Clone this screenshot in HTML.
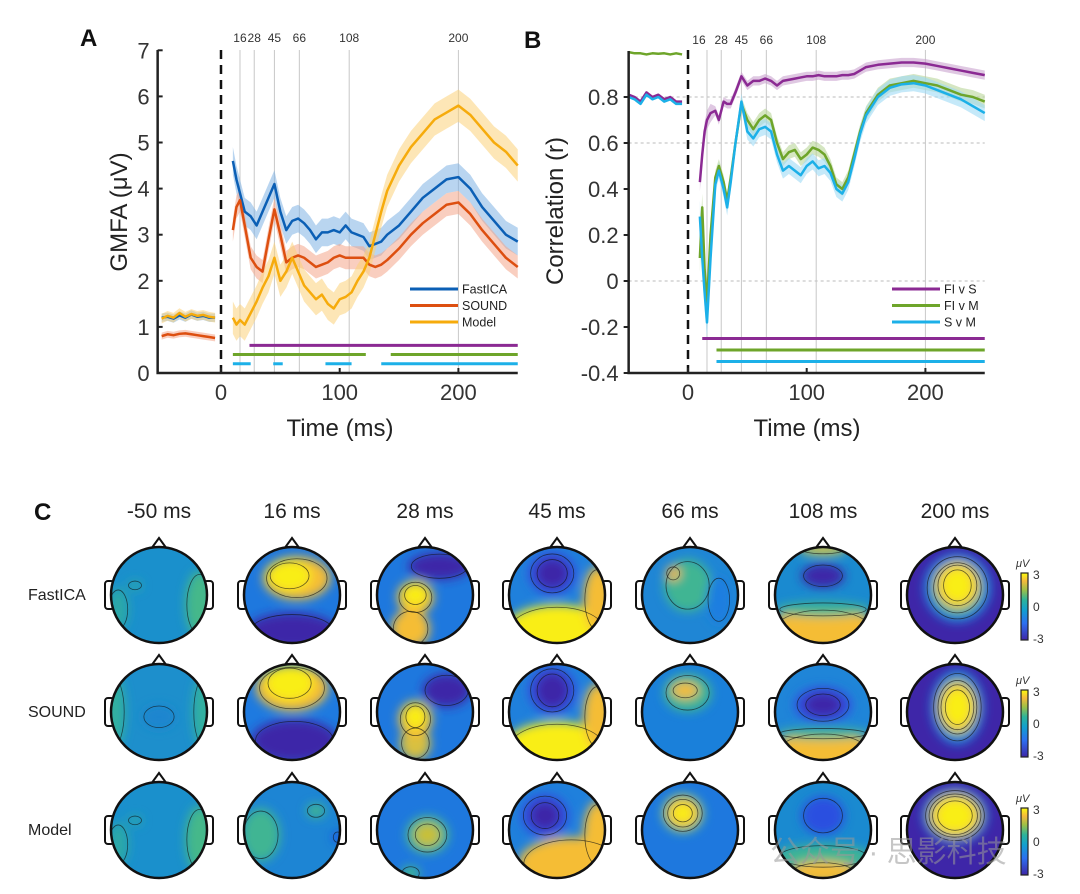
<!DOCTYPE html>
<html><head><meta charset="utf-8">
<style>
html,body{margin:0;padding:0;background:#fff;}
svg{display:block;font-family:"Liberation Sans","DejaVu Sans",sans-serif;}
</style></head>
<body>
<svg id="fig" width="1080" height="894" viewBox="0 0 1080 894" xmlns="http://www.w3.org/2000/svg">
<defs>
<filter id="blur" x="-50%" y="-50%" width="200%" height="200%"><feGaussianBlur stdDeviation="5"/></filter>
<linearGradient id="parula" x1="0" y1="1" x2="0" y2="0">
<stop offset="0" stop-color="#3e26a8"/><stop offset="0.25" stop-color="#2c6ff0"/><stop offset="0.45" stop-color="#12a0cf"/><stop offset="0.6" stop-color="#2db49a"/><stop offset="0.75" stop-color="#9fc047"/><stop offset="0.88" stop-color="#f5ba3c"/><stop offset="1" stop-color="#f9fb0e"/>
</linearGradient>
</defs>
<g id="panelA"></g>
<g id="panelB"></g>
<g id="panelC"></g>
<text x="770" y="862" font-size="30" fill="#999" opacity="0.55" font-family="'Liberation Sans','Noto Sans CJK SC',sans-serif">公众号 · 思影科技</text>
</svg>
<script>
// ---------- Panel A data ----------
const timesA = [10,13,16,20,25,30,35,40,45,50,55,60,65,70,75,80,85,90,95,100,105,110,115,120,125,130,135,140,150,160,170,180,190,200,210,220,230,240,250];
const fastica = [4.6,4.2,3.9,3.5,3.4,3.2,3.5,3.8,4.1,3.5,3.1,3.3,3.35,3.25,3.1,2.9,3.05,3.05,3.1,3.05,3.2,3.05,3.0,2.95,2.75,2.8,2.85,3.0,3.2,3.5,3.8,4.0,4.2,4.25,4.0,3.6,3.3,3.0,2.85];
const sound = [3.1,3.6,3.75,3.2,2.5,2.3,2.2,2.9,3.55,3.0,2.4,2.5,2.55,2.5,2.4,2.3,2.35,2.4,2.5,2.55,2.5,2.5,2.5,2.5,2.35,2.3,2.35,2.45,2.7,3.0,3.25,3.45,3.65,3.7,3.45,3.1,2.8,2.5,2.3];
const model = [1.2,1.05,1.15,1.05,1.3,1.55,1.85,2.1,2.5,2.0,2.2,2.5,2.2,1.9,1.75,1.6,1.7,1.5,1.4,1.6,1.65,1.75,2.0,2.2,2.5,3.0,3.5,3.95,4.5,4.9,5.2,5.5,5.65,5.8,5.6,5.3,5.0,4.8,4.5];
const baseTimesA = [-50,-45,-40,-35,-30,-25,-20,-15,-10,-5];
const fasticaBase = [1.2,1.22,1.18,1.25,1.2,1.27,1.22,1.24,1.2,1.2];
const soundBase = [0.8,0.84,0.82,0.85,0.86,0.84,0.82,0.8,0.78,0.76];
const modelBase = [1.18,1.24,1.2,1.3,1.22,1.28,1.24,1.26,1.22,1.2];
const ciA = [0.3,0.25,0.35];
const yTicksA = [0,1,2,3,4,5,6,7];
const xTicks = [0,100,200];
const markTimes = [16,28,45,66,108,200];
const sigA_purple = [[24,250]];
const sigA_green = [[10,122],[143,250]];
const sigA_cyan = [[10,25],[44,52],[88,110],[135,250]];
const sigLevelsA = [0.6,0.4,0.2];

// ---------- Panel B data ----------
const timesB = [10,12,14,16,19,23,26,30,33,36,40,45,50,55,60,65,70,75,80,85,90,95,100,105,110,115,120,125,130,135,140,145,150,160,170,180,190,200,210,220,230,240,250];
const fiVsS = [0.43,0.55,0.65,0.7,0.73,0.74,0.7,0.78,0.77,0.77,0.82,0.89,0.85,0.87,0.87,0.88,0.87,0.85,0.87,0.875,0.88,0.885,0.89,0.89,0.895,0.89,0.89,0.89,0.895,0.895,0.9,0.915,0.93,0.94,0.945,0.95,0.95,0.945,0.935,0.925,0.915,0.905,0.895];
const fiVsM = [0.1,0.32,0.05,-0.1,0.2,0.45,0.5,0.43,0.35,0.45,0.6,0.77,0.7,0.66,0.7,0.72,0.7,0.6,0.53,0.56,0.57,0.53,0.55,0.58,0.57,0.55,0.5,0.42,0.4,0.45,0.55,0.65,0.73,0.81,0.85,0.86,0.87,0.86,0.85,0.83,0.81,0.8,0.78];
const sVsM = [0.28,0.1,-0.05,-0.18,0.1,0.42,0.48,0.4,0.32,0.43,0.6,0.78,0.65,0.62,0.66,0.67,0.65,0.55,0.48,0.5,0.48,0.46,0.5,0.52,0.49,0.5,0.47,0.4,0.38,0.43,0.53,0.64,0.72,0.8,0.84,0.855,0.86,0.85,0.83,0.81,0.79,0.76,0.73];
const baseTimesB = [-50,-45,-40,-35,-30,-25,-20,-15,-10,-5];
const fiVsSBase = [0.81,0.8,0.78,0.82,0.8,0.81,0.79,0.8,0.78,0.78];
const fiVsMBase = [0.995,0.99,0.99,0.985,0.99,0.988,0.99,0.985,0.99,0.985];
const sVsMBase = [0.8,0.79,0.77,0.81,0.79,0.8,0.78,0.79,0.77,0.77];
const ciB = [0.02,0.03,0.035];
const yTicksB = [-0.4,-0.2,0,0.2,0.4,0.6,0.8];
const gridB = [0.8,0.6,0];
const sigB = [[12,250],[24,250],[24,250]];
const sigLevelsB = [-0.25,-0.3,-0.35];

const NS = 'http://www.w3.org/2000/svg';
function mk(parent, tag, attrs, text){
  const e = document.createElementNS(NS, tag);
  for (const k in attrs) e.setAttribute(k, attrs[k]);
  if (text !== undefined) e.textContent = text;
  parent.appendChild(e);
  return e;
}

// ---------- Panel A ----------
(function(){
  const g = document.getElementById('panelA');
  const x = t => 221 + (t)*1.187;
  const y = v => 373 - v*46.1;
  const C = ['#0b5fb5','#dd4f10','#f6ab0c'];
  const BC = ['#7fb3e3','#f4a58a','#fbd27a'];
  // marker lines
  markTimes.forEach(t=>{
    const l = mk(g,'line',{x1:x(t),x2:x(t),y1:50,y2:373,stroke:'#c8c8c8','stroke-width':1});
    
    
    const tx = mk(g,'text',{x:x(t),y:42,'font-size':12,fill:'#333','text-anchor':'middle'},String(t));
    
    
  });
  const series = [[fasticaBase,fastica],[soundBase,sound],[modelBase,model]];
  const names = ['fastica','sound','model'];
  series.forEach((s,i)=>{
    [[baseTimesA,s[0]],[timesA,s[1]]].forEach(([ts,vs])=>{
      let up = ts.map((t,j)=>x(t)+','+y(vs[j]+ciA[i]*(ts===baseTimesA?0.3:1)));
      let dn = ts.map((t,j)=>x(t)+','+y(vs[j]-ciA[i]*(ts===baseTimesA?0.3:1))).reverse();
      const b = mk(g,'polygon',{points:up.concat(dn).join(' '),fill:BC[i],opacity:0.55});
      
      
    });
  });
  series.forEach((s,i)=>{
    [[baseTimesA,s[0]],[timesA,s[1]]].forEach(([ts,vs])=>{
      const p = mk(g,'polyline',{points:ts.map((t,j)=>x(t)+','+y(vs[j])).join(' '),fill:'none',stroke:C[i],'stroke-width':2.5,'stroke-linejoin':'round'});
      
      
    });
  });
  // sig bars
  [[sigA_purple,'#8b2a93'],[sigA_green,'#6ea52a'],[sigA_cyan,'#1cb0e8']].forEach(([segs,c],k)=>{
    segs.forEach(sg=>{
      const l = mk(g,'line',{x1:x(sg[0]),x2:x(sg[1]),y1:y(sigLevelsA[k]),y2:y(sigLevelsA[k]),stroke:c,'stroke-width':3});
      
      
    });
  });
  // dashed zero line
  const dz = mk(g,'line',{x1:x(0),x2:x(0),y1:50,y2:380,stroke:'#111','stroke-width':2.5,'stroke-dasharray':'9,6'});
  
  
  // axes
  const ax = mk(g,'path',{d:`M${x(-50)-4} 50 L${x(-50)-4} 373 L${x(250)} 373`,fill:'none',stroke:'#222','stroke-width':2.5});
  
  
  yTicksA.forEach(v=>{
    mk(g,'line',{x1:x(-50)-4,x2:x(-50)+1,y1:y(v),y2:y(v),stroke:'#222','stroke-width':2});
    const t = mk(g,'text',{x:x(-50)-12,y:y(v)+8,'font-size':22,fill:'#333','text-anchor':'end'},String(v));
    
    
  });
  xTicks.forEach(v=>{
    mk(g,'line',{x1:x(v),x2:x(v),y1:368,y2:373,stroke:'#222','stroke-width':2});
    const t = mk(g,'text',{x:x(v),y:400,'font-size':22,fill:'#333','text-anchor':'middle'},String(v));
    
    
  });
  const xt = mk(g,'text',{x:340,y:436,'font-size':24,fill:'#222','text-anchor':'middle'},'Time (ms)');
  
  
  const yt = mk(g,'text',{x:0,y:0,'font-size':24,fill:'#222','text-anchor':'middle',transform:'translate(127,212) rotate(-90)'},'GMFA (μV)');
  
  
  const pl = mk(g,'text',{x:80,y:46,'font-size':24,'font-weight':'bold',fill:'#111'},'A');
  
  
  ['FastICA','SOUND','Model'].forEach((n,i)=>{
    const yy = 289+i*16.5;
    const l = mk(g,'line',{x1:410,x2:458,y1:yy,y2:yy,stroke:C[i],'stroke-width':3});
    
    
    const t = mk(g,'text',{x:462,y:yy+4.5,'font-size':12.5,fill:'#222'},n);
    
    
  });
})();

// ---------- Panel B ----------
(function(){
  const g = document.getElementById('panelB');
  const x = t => 688 + t*1.187;
  const y = v => 281 - v*230;
  const C = ['#8b2a93','#6ea52a','#1cb0e8'];
  const BC = ['#c9a3cf','#b9d59a','#9fdaf5'];
  gridB.forEach(v=>{
    const l = mk(g,'line',{x1:x(-50),x2:x(250),y1:y(v),y2:y(v),stroke:'#bbb','stroke-width':1,'stroke-dasharray':'3,3'});
    
    
  });
  markTimes.forEach(t=>{
    const l = mk(g,'line',{x1:x(t),x2:x(t),y1:50,y2:373,stroke:'#c8c8c8','stroke-width':1});
    
    
    const tx = mk(g,'text',{x:x(t)+(t===16?-8:0),y:44,'font-size':12,fill:'#333','text-anchor':'middle'},String(t));
    
    
  });
  const series = [[fiVsSBase,fiVsS],[fiVsMBase,fiVsM],[sVsMBase,sVsM]];
  const names = ['fi-v-s','fi-v-m','s-v-m'];
  series.forEach((s,i)=>{
    const ts = timesB, vs = s[1];
    let up = ts.map((t,j)=>x(t)+','+y(vs[j]+ciB[i]*(t<20?2:1)));
    let dn = ts.map((t,j)=>x(t)+','+y(vs[j]-ciB[i]*(t<20?2:1))).reverse();
    const b = mk(g,'polygon',{points:up.concat(dn).join(' '),fill:BC[i],opacity:0.6});
    
    
  });
  [1,0,2].forEach(i=>{
    const s = series[i];
    [[baseTimesB,s[0]],[timesB,s[1]]].forEach(([ts,vs])=>{
      const p = mk(g,'polyline',{points:ts.map((t,j)=>x(t)+','+y(vs[j])).join(' '),fill:'none',stroke:C[i],'stroke-width':2.5,'stroke-linejoin':'round'});
      
      
    });
  });
  sigB.forEach((sg,k)=>{
    const l = mk(g,'line',{x1:x(sg[0]),x2:x(sg[1]),y1:y(sigLevelsB[k]),y2:y(sigLevelsB[k]),stroke:C[k],'stroke-width':3});
    
    
  });
  const dz = mk(g,'line',{x1:x(0),x2:x(0),y1:50,y2:380,stroke:'#111','stroke-width':2.5,'stroke-dasharray':'9,6'});
  
  
  const ax = mk(g,'path',{d:`M${x(-50)} 51 L${x(-50)} 373 L${x(250)} 373`,fill:'none',stroke:'#222','stroke-width':2.5});
  
  
  yTicksB.forEach(v=>{
    mk(g,'line',{x1:x(-50)-5,x2:x(-50),y1:y(v),y2:y(v),stroke:'#222','stroke-width':2});
    const t = mk(g,'text',{x:x(-50)-10,y:y(v)+8,'font-size':22,fill:'#333','text-anchor':'end'},String(Math.round(v*10)/10));
    
    
  });
  xTicks.forEach(v=>{
    mk(g,'line',{x1:x(v),x2:x(v),y1:368,y2:373,stroke:'#222','stroke-width':2});
    const t = mk(g,'text',{x:x(v),y:400,'font-size':22,fill:'#333','text-anchor':'middle'},String(v));
    
    
  });
  const xt = mk(g,'text',{x:807,y:436,'font-size':24,fill:'#222','text-anchor':'middle'},'Time (ms)');
  
  
  const yt = mk(g,'text',{x:0,y:0,'font-size':24,fill:'#222','text-anchor':'middle',transform:'translate(563,211) rotate(-90)'},'Correlation (r)');
  
  
  const pl = mk(g,'text',{x:524,y:48,'font-size':24,'font-weight':'bold',fill:'#111'},'B');
  
  
  ['FI v S','FI v M','S v M'].forEach((n,i)=>{
    const yy = 289+i*16.5;
    const l = mk(g,'line',{x1:892,x2:940,y1:yy,y2:yy,stroke:C[i],'stroke-width':3});
    
    
    const t = mk(g,'text',{x:944,y:yy+4.5,'font-size':12.5,fill:'#222'},n);
    
    
  });
})();

// ---------- Panel C topomaps ----------
const latencies = ['-50 ms','16 ms','28 ms','45 ms','66 ms','108 ms','200 ms'];
const methods = ['FastICA','SOUND','Model'];
const D='#3e26a8', Y='#f9ee12', O='#f5bd35', G='#3fb593', BL='#1f7fe0', BK='#1a8ccd';
const heads = [
 // FastICA
 [['#1a90cc',[[0.85,0.2,0.3,0.7,'#45b88a'],[-0.85,0.3,0.22,0.45,'#2aa8a8'],[-0.5,-0.2,0.15,0.1,'#2aa8a8']]],
  ['#1e78de',[[0,0.75,0.95,0.38,D],[0.1,-0.35,0.7,0.45,O],[-0.05,-0.4,0.45,0.3,Y]]],
  ['#1e78de',[[0.3,-0.6,0.65,0.28,D],[-0.3,0.7,0.4,0.4,O],[-0.2,0.05,0.38,0.35,O],[-0.2,0.0,0.25,0.22,Y]]],
  ['#1f80dc',[[0,0.75,1.1,0.55,Y],[0.85,0.1,0.3,0.7,O],[-0.1,-0.45,0.5,0.45,'#3050e0'],[-0.1,-0.45,0.35,0.32,D]]],
  ['#1f86d5',[[-0.05,-0.2,0.5,0.55,G],[0.6,0.1,0.25,0.5,'#1a7ee0'],[-0.35,-0.45,0.15,0.15,'#f0b84a']]],
  ['#1a8ad0',[[0,0.72,1.1,0.45,O],[0,0.3,1,0.15,G],[0,-0.4,0.45,0.25,D],[0,-0.95,0.5,0.1,'#f5d030']]],
  [D,[[0.05,-0.15,0.7,0.72,'#1e80e0'],[0.05,-0.15,0.55,0.58,G],[0.05,-0.2,0.45,0.47,O],[0.05,-0.2,0.32,0.36,Y]]]],
 // SOUND
 [['#1d8fcc',[[-0.95,0,0.25,0.8,'#30b0a0'],[0.95,0,0.25,0.8,'#30b0a0'],[0,0.1,0.35,0.25,'#1a85cf']]],
  ['#1e7ae0',[[0.05,0.6,0.9,0.45,D],[0,-0.5,0.75,0.48,O],[-0.05,-0.6,0.5,0.35,Y]]],
  ['#1e78de',[[0.45,-0.45,0.5,0.35,D],[-0.2,0.65,0.32,0.35,'#d8c040'],[-0.2,0.15,0.35,0.38,O],[-0.2,0.1,0.22,0.25,Y]]],
  ['#1f80dc',[[0,0.75,1.1,0.55,Y],[0.85,0.1,0.3,0.7,O],[-0.1,-0.45,0.5,0.5,'#3050e0'],[-0.1,-0.45,0.35,0.38,D]]],
  ['#1a80da',[[-0.05,-0.4,0.5,0.4,G],[-0.1,-0.45,0.28,0.17,O]]],
  ['#1f85d8',[[0,0.8,1,0.38,O],[0,0.45,1,0.12,G],[0,-0.15,0.6,0.38,'#3050e0'],[0,-0.15,0.4,0.25,D]]],
  [D,[[0.05,-0.1,0.55,0.78,'#1e80e0'],[0.05,-0.1,0.45,0.62,G],[0.05,-0.1,0.38,0.52,O],[0.05,-0.1,0.28,0.4,Y]]]],
 // Model
 [['#1a90cc',[[0.85,0.2,0.3,0.7,'#45b88a'],[-0.85,0.3,0.22,0.45,'#2aa8a8'],[-0.5,-0.2,0.15,0.1,'#2aa8a8']]],
  ['#1d85d4',[[-0.65,0.1,0.4,0.55,G],[0.5,-0.4,0.2,0.15,G],[0.95,0.15,0.1,0.12,'#1a4ae8']]],
  ['#1e78de',[[0.05,0.1,0.45,0.4,G],[0.05,0.1,0.28,0.25,'#c8c038'],[-0.3,0.9,0.2,0.15,G]]],
  ['#1f80dc',[[0.3,0.7,1.1,0.55,O],[0.85,0.1,0.3,0.7,O],[-0.25,-0.3,0.5,0.45,'#3050e0'],[-0.25,-0.3,0.32,0.3,D]]],
  ['#1e78de',[[-0.15,-0.35,0.45,0.42,G],[-0.15,-0.35,0.35,0.32,O],[-0.15,-0.35,0.22,0.2,Y]]],
  ['#1a8ad0',[[0,0.55,1,0.25,G],[0,0.88,0.7,0.22,O],[0,-0.3,0.45,0.4,'#2a4fe0']]],
  [D,[[0,-0.3,0.68,0.58,'#1e80e0'],[0,-0.3,0.6,0.5,G],[0,-0.3,0.52,0.44,O],[0,-0.3,0.4,0.34,Y]]]]
];
(function(){
  const g = document.getElementById('panelC');
  const cxs = [159,292,425,557,690,823,955];
  const cys = [595,712,830];
  const R = 48;
  const pl = mk(g,'text',{x:34,y:520,'font-size':24,'font-weight':'bold',fill:'#111'},'C');
  
  
  latencies.forEach((l,i)=>{
    const t = mk(g,'text',{x:cxs[i],y:518,'font-size':21,fill:'#222','text-anchor':'middle'},l);
    
    
  });
  methods.forEach((m,r)=>{
    const t = mk(g,'text',{x:28,y:cys[r]+5,'font-size':16,fill:'#222'},m);
    
    
    // colorbar
    const cb = mk(g,'rect',{x:1021,y:cys[r]-22,width:7,height:67,fill:'url(#parula)',stroke:'#222','stroke-width':1.2});
    
    
    mk(g,'text',{x:1016,y:cys[r]-28,'font-size':11,'font-style':'italic',fill:'#333'},'μV');
    [['3',-16],['0',16],['-3',48]].forEach(([s,dy])=>{
      const tt = mk(g,'text',{x:1033,y:cys[r]+dy,'font-size':12,fill:'#333'},s);
      
      
    });
    cxs.forEach((cx,c)=>{
      const cy = cys[r];
      const hg = mk(g,'g',{});
      
      
      // ears & nose
      mk(hg,'rect',{x:cx-R-6,y:cy-14,width:9,height:28,rx:3,fill:'#fff',stroke:'#111','stroke-width':2});
      mk(hg,'rect',{x:cx+R-3,y:cy-14,width:9,height:28,rx:3,fill:'#fff',stroke:'#111','stroke-width':2});
      mk(hg,'path',{d:`M${cx-8} ${cy-R+2} L${cx} ${cy-R-9} L${cx+8} ${cy-R+2}`,fill:'#fff',stroke:'#111','stroke-width':2});
      const id = 'clip'+r+'_'+c;
      const cp = mk(hg,'clipPath',{id:id});
      mk(cp,'circle',{cx:cx,cy:cy,r:R});
      const inner = mk(hg,'g',{'clip-path':`url(#${id})`});
      const spec = heads[r][c];
      mk(inner,'rect',{x:cx-R,y:cy-R,width:2*R,height:2*R,fill:spec[0]});
      const bl = mk(inner,'g',{filter:'url(#blur)'});
      spec[1].forEach(b=>{
        mk(bl,'ellipse',{cx:cx+b[0]*R,cy:cy+b[1]*R,rx:b[2]*R,ry:b[3]*R,fill:b[4]});
      });
      spec[1].forEach(b=>{
        mk(inner,'ellipse',{cx:cx+b[0]*R,cy:cy+b[1]*R,rx:b[2]*R*0.9,ry:b[3]*R*0.9,fill:'none',stroke:'#111','stroke-width':0.8,opacity:0.65});
      });
      mk(hg,'circle',{cx:cx,cy:cy,r:R,fill:'none',stroke:'#111','stroke-width':2.5});
    });
  });
})();
</script>
</body></html>
